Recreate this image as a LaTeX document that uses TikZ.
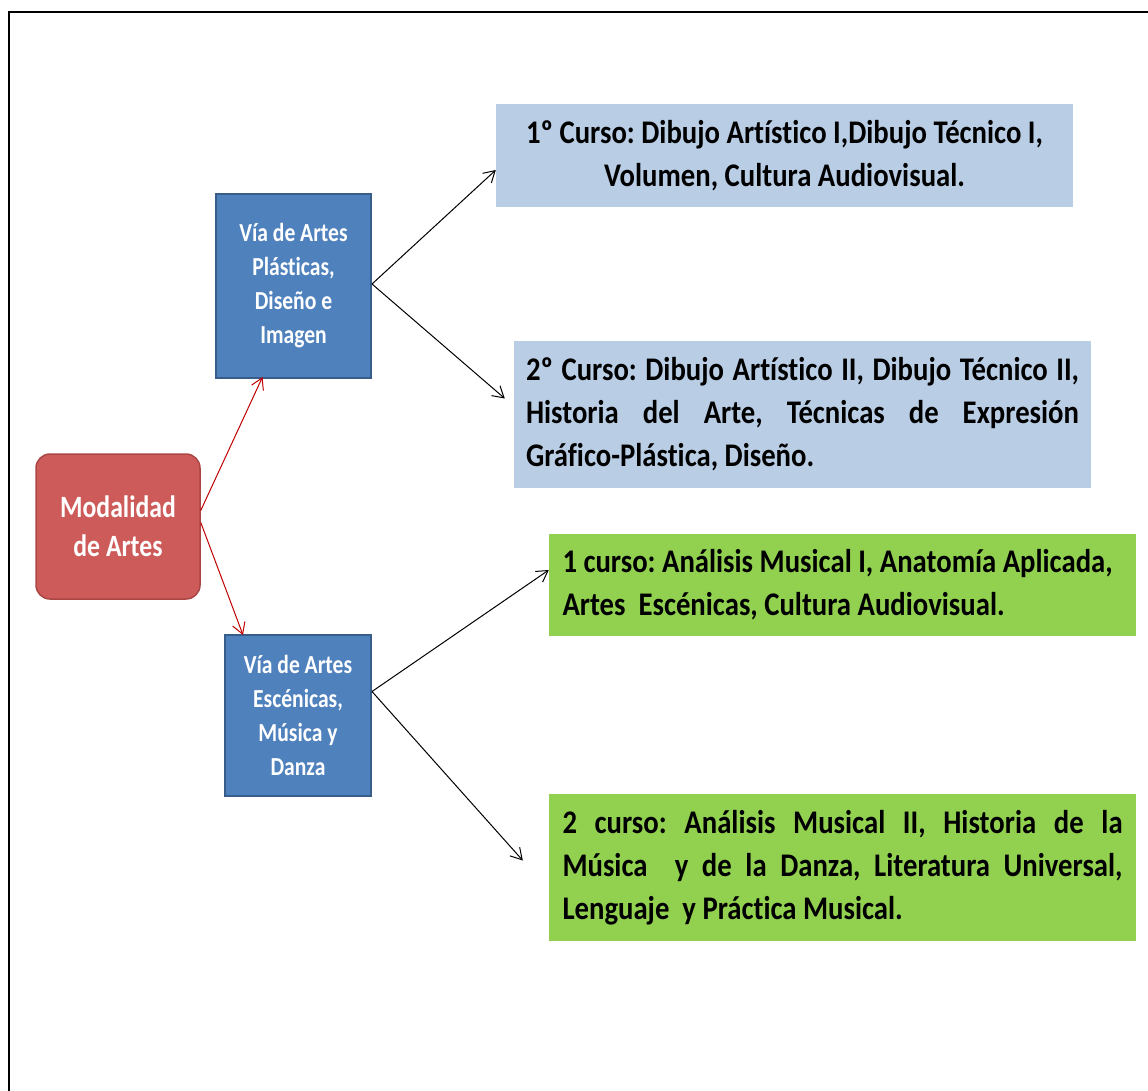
\documentclass[tikz,border=0pt]{standalone}
\usepackage{fontspec}
\setmainfont{Carlito}[FakeStretch=0.83,Ligatures=NoCommon]
\newfontfamily\curfont{Carlito}[FakeStretch=0.87,Ligatures=NoCommon]
\usetikzlibrary{arrows.meta}
\hyphenpenalty=10000
\exhyphenpenalty=10000
\frenchspacing

\definecolor{modred}{RGB}{205,91,89}
\definecolor{modline}{RGB}{170,70,68}
\definecolor{viablue}{RGB}{79,129,189}
\definecolor{vialine}{RGB}{56,93,138}
\definecolor{curblue}{RGB}{185,205,229}
\definecolor{curgreen}{RGB}{146,208,80}
\definecolor{arrred}{RGB}{192,0,0}

\begin{document}
\begin{tikzpicture}[x=1pt,y=-1pt,
    modbox/.style={fill=modred,draw=modline,line width=1.5pt,rounded corners=14pt,
      minimum width=164pt,minimum height=145pt,inner sep=0pt,text=white,align=center,
      font=\bfseries\fontsize{31}{39}\selectfont},
    viabox/.style={fill=viablue,draw=vialine,line width=2pt,inner sep=0pt,text=white,
      align=flush center,text width=140pt,font=\bfseries\fontsize{26}{34}\selectfont},
    curbox/.style={inner sep=0pt,minimum height=#1,
      font=\curfont\bfseries\fontsize{33}{43}\selectfont},
    redarr/.style={draw=arrred,line width=1pt,-{Straight Barb[length=11pt,width=13pt]}},
    blkarr/.style={draw=black,line width=1pt,-{Straight Barb[length=11pt,width=13pt]}}]
    \useasboundingbox (0,0) rectangle (1148,1090);
    \draw[line width=2.5pt] (1160,12) -- (9,12) -- (9,1100);
    \node[modbox] (mod) at (118,526.5) {Modalidad\\de Artes};
    \node[viabox,minimum width=155pt,minimum height=184pt] (viaP) at (293.5,286)
      {Vía de Artes\\Plásticas,\\Diseño e\\Imagen};
    \node[viabox,minimum width=146pt,minimum height=161pt] (viaE) at (298,715)
      {Vía de Artes\\Escénicas,\\Música y\\Danza};
    \node[curbox=103pt,fill=curblue,minimum width=577pt,align=flush center] (c1) at (784.5,155.5)
      {1º Curso: Dibujo Artístico I,Dibujo Técnico I,\\Volumen, Cultura Audiovisual.};
    \node[curbox=147pt,fill=curblue,minimum width=577pt,text width=553pt,align=justify] (c2) at (802.5,414.5)
      {2º Curso: Dibujo Artístico II, Dibujo Técnico II,\linebreak Historia del Arte, Técnicas de Expresión\linebreak Gráfico-Plástica, Diseño.};
    \node[curbox=102pt,fill=curgreen,minimum width=587pt,text width=560pt,align=flush left] (c3) at (842.5,585)
      {1 curso: Análisis Musical I, Anatomía Aplicada,\\Artes\ \ Escénicas, Cultura Audiovisual.};
    \node[curbox=147pt,fill=curgreen,minimum width=587pt,text width=560pt,align=justify] (c4) at (842.5,867.5)
      {2 curso: Análisis Musical II, Historia de la\linebreak Música\ \ y de la Danza, Literatura Universal,\linebreak Lenguaje\ \ y Práctica Musical.};
    \path ([yshift=16pt]mod.east) edge [redarr] ([xshift=-31pt,yshift=2pt]viaP.south);
    \path ([yshift=4pt]mod.east) edge [redarr] ([xshift=-55pt,yshift=-1.5pt]viaE.north);
    \path ([yshift=2pt]viaP.east) edge [blkarr] ([yshift=-14.5pt]c1.west);
    \path ([yshift=2pt]viaP.east) edge [blkarr] ([xshift=-9pt,yshift=16pt]c2.west);
    \path ([yshift=23.5pt]viaE.east) edge [blkarr] ([yshift=15pt]c3.west);
    \path ([yshift=23.5pt]viaE.east) edge [blkarr] ([xshift=-26pt,yshift=7pt]c4.west);
  \end{tikzpicture}
\end{document}
